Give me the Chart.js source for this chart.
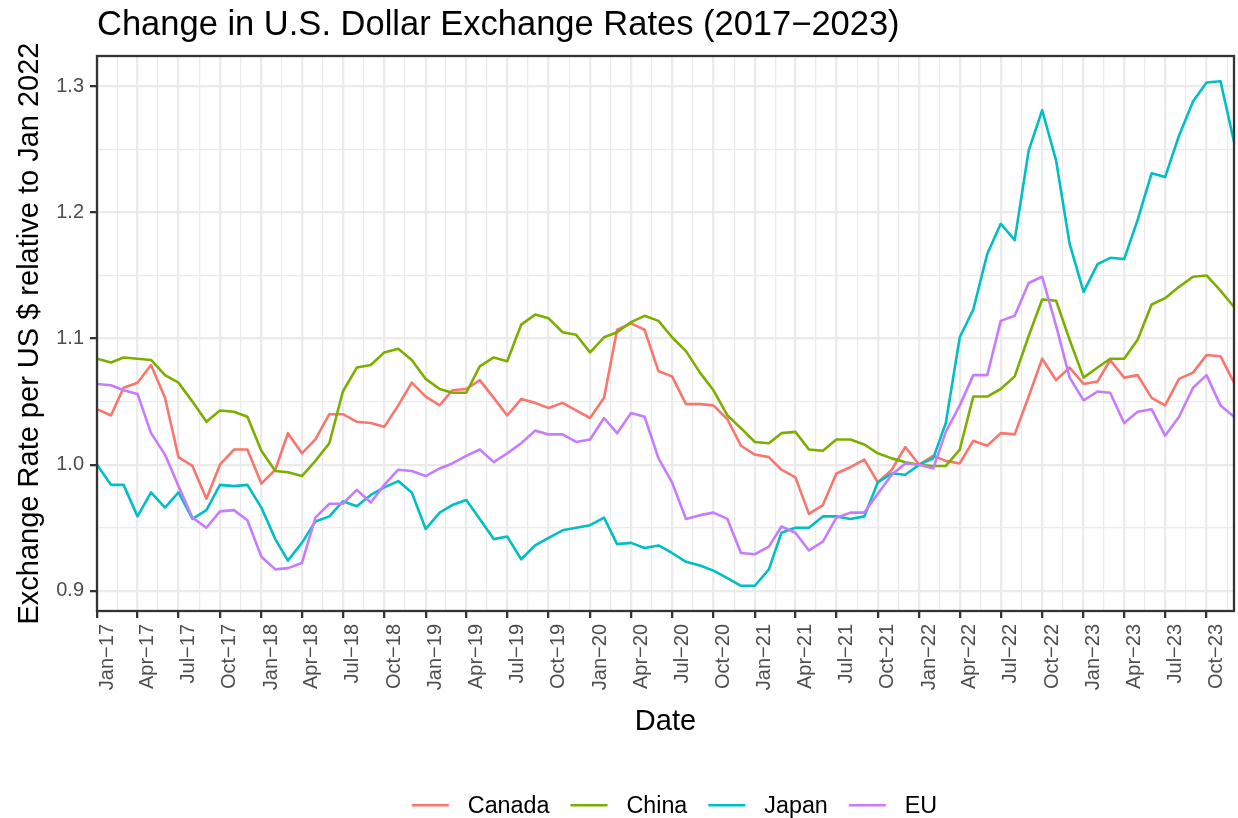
<!DOCTYPE html>
<html>
<head>
<meta charset="utf-8">
<title>Change in U.S. Dollar Exchange Rates (2017−2023)</title>
<script src="https://cdn.jsdelivr.net/npm/chart.js@4.4.1/dist/chart.umd.min.js"></script>
<style>
  html, body { margin: 0; padding: 0; background: #ffffff; }
  #wrap { width: 1238px; height: 818px; }
</style>
</head>
<body>
<div id="wrap"><canvas id="chart" width="1238" height="818"></canvas></div>
<script>
// Monthly observations (first of each month), rates indexed to Jan 2022 = 1
const months = [
  '2017-01','2017-02','2017-03','2017-04','2017-05','2017-06','2017-07','2017-08','2017-09','2017-10','2017-11','2017-12',
  '2018-01','2018-02','2018-03','2018-04','2018-05','2018-06','2018-07','2018-08','2018-09','2018-10','2018-11','2018-12',
  '2019-01','2019-02','2019-03','2019-04','2019-05','2019-06','2019-07','2019-08','2019-09','2019-10','2019-11','2019-12',
  '2020-01','2020-02','2020-03','2020-04','2020-05','2020-06','2020-07','2020-08','2020-09','2020-10','2020-11','2020-12',
  '2021-01','2021-02','2021-03','2021-04','2021-05','2021-06','2021-07','2021-08','2021-09','2021-10','2021-11','2021-12',
  '2022-01','2022-02','2022-03','2022-04','2022-05','2022-06','2022-07','2022-08','2022-09','2022-10','2022-11','2022-12',
  '2023-01','2023-02','2023-03','2023-04','2023-05','2023-06','2023-07','2023-08','2023-09','2023-10','2023-11','2023-12'
];

const canada = [
  1.044, 1.039, 1.061, 1.065, 1.079, 1.053, 1.006, 0.999, 0.973, 1.000, 1.012, 1.012,
  0.985, 0.996, 1.025, 1.009, 1.020, 1.040, 1.040, 1.034, 1.033, 1.030, 1.047, 1.065,
  1.054, 1.047, 1.059, 1.060, 1.067, 1.053, 1.039, 1.052, 1.049, 1.045, 1.049, 1.043,
  1.037, 1.053, 1.107, 1.112, 1.107, 1.074, 1.070, 1.048, 1.048, 1.047, 1.036, 1.015,
  1.008, 1.006, 0.996, 0.990, 0.961, 0.968, 0.993, 0.998, 1.004, 0.986, 0.996, 1.014,
  1.000, 1.007, 1.003, 1.001, 1.019, 1.015, 1.025, 1.024, 1.054, 1.084, 1.067, 1.077,
  1.064, 1.066, 1.083, 1.069, 1.071, 1.053, 1.047, 1.068, 1.073, 1.087, 1.086, 1.065
];

const china = [
  1.084, 1.081, 1.085, 1.084, 1.083, 1.071, 1.065, 1.050, 1.034, 1.043, 1.042, 1.038,
  1.011, 0.995, 0.994, 0.991, 1.003, 1.017, 1.058, 1.077, 1.079, 1.089, 1.092, 1.083,
  1.068, 1.060, 1.057, 1.057, 1.078, 1.085, 1.082, 1.111, 1.119, 1.116, 1.105, 1.103,
  1.089, 1.101, 1.105, 1.113, 1.118, 1.114, 1.101, 1.090, 1.073, 1.059, 1.039, 1.029,
  1.018, 1.017, 1.025, 1.026, 1.012, 1.011, 1.020, 1.020, 1.016, 1.009, 1.005, 1.002,
  1.000, 0.999, 0.999, 1.012, 1.054, 1.054, 1.060, 1.070, 1.102, 1.131, 1.130, 1.099,
  1.069, 1.077, 1.084, 1.084, 1.099, 1.127, 1.132, 1.141, 1.149, 1.150, 1.138, 1.125
];

const japan = [
  1.000, 0.984, 0.984, 0.959, 0.978, 0.966, 0.978, 0.957, 0.964, 0.984, 0.983, 0.984,
  0.966, 0.941, 0.924, 0.938, 0.955, 0.959, 0.971, 0.967, 0.976, 0.982, 0.987, 0.978,
  0.949, 0.962, 0.968, 0.972, 0.957, 0.941, 0.943, 0.925, 0.936, 0.942, 0.948, 0.950,
  0.952, 0.958, 0.937, 0.938, 0.934, 0.936, 0.930, 0.923, 0.920, 0.916, 0.910, 0.904,
  0.904, 0.917, 0.946, 0.950, 0.950, 0.959, 0.959, 0.957, 0.959, 0.986, 0.993, 0.992,
  1.000, 1.005, 1.033, 1.101, 1.123, 1.167, 1.191, 1.178, 1.249, 1.281, 1.241, 1.175,
  1.137, 1.159, 1.164, 1.163, 1.194, 1.231, 1.228, 1.261, 1.288, 1.303, 1.304, 1.256
];

const eu = [
  1.064, 1.063, 1.059, 1.056, 1.025, 1.008, 0.983, 0.958, 0.950, 0.963, 0.964, 0.956,
  0.927, 0.917, 0.918, 0.922, 0.958, 0.969, 0.969, 0.980, 0.970, 0.984, 0.996, 0.995,
  0.991, 0.997, 1.001, 1.007, 1.012, 1.002, 1.009, 1.017, 1.027, 1.024, 1.024, 1.018,
  1.020, 1.037, 1.025, 1.041, 1.038, 1.005, 0.986, 0.957, 0.960, 0.962, 0.957, 0.930,
  0.929, 0.935, 0.951, 0.946, 0.932, 0.939, 0.958, 0.962, 0.962, 0.977, 0.992, 1.001,
  1.000, 0.997, 1.026, 1.047, 1.071, 1.071, 1.114, 1.118, 1.144, 1.149, 1.110, 1.069,
  1.051, 1.058, 1.057, 1.033, 1.042, 1.044, 1.023, 1.038, 1.061, 1.071, 1.047, 1.038
];

const seriesNames = ['Canada', 'China', 'Japan', 'EU'];
const seriesValues = [canada, china, japan, eu];
const seriesColors = ['#F8766D', '#7CAE00', '#00BFC4', '#C77CFF'];

// Quarterly date breaks and their labels
const tickMonths = [
  '2017-01','2017-04','2017-07','2017-10','2018-01','2018-04','2018-07','2018-10',
  '2019-01','2019-04','2019-07','2019-10','2020-01','2020-04','2020-07','2020-10',
  '2021-01','2021-04','2021-07','2021-10','2022-01','2022-04','2022-07','2022-10',
  '2023-01','2023-04','2023-07','2023-10'
];
const tickLabels = [
  'Jan−17','Apr−17','Jul−17','Oct−17','Jan−18','Apr−18','Jul−18','Oct−18',
  'Jan−19','Apr−19','Jul−19','Oct−19','Jan−20','Apr−20','Jul−20','Oct−20',
  'Jan−21','Apr−21','Jul−21','Oct−21','Jan−22','Apr−22','Jul−22','Oct−22',
  'Jan−23','Apr−23','Jul−23','Oct−23'
];
const nextBreakMonth = '2024-01';

const yBreaks = [0.9, 1.0, 1.1, 1.2, 1.3];

const titleText = 'Change in U.S. Dollar Exchange Rates (2017−2023)';
const xTitle = 'Date';
const yTitle = 'Exchange Rate per US $ relative to Jan 2022';

// ---- helpers ----
const DAY = 86400000;
const ORIGIN = Date.UTC(2017, 0, 1);
function dayOf(ym) {
  const [y, m] = ym.split('-').map(Number);
  return (Date.UTC(y, m - 1, 1) - ORIGIN) / DAY;
}

const FONT = "'Liberation Sans', Arial, Helvetica, sans-serif";
const GRID = '#EBEBEB';
const DARK = '#333333';
const TICK_TEXT = '#4D4D4D';
const LW = 2.6;
const TICK_FONT = 20;

const xMin = dayOf(months[0]);
const xMax = dayOf(months[months.length - 1]);

const allVals = seriesValues.flat();
const vLo = Math.min(...allVals), vHi = Math.max(...allVals);
const vPad = (vHi - vLo) * 0.05;
const yMin = vLo - vPad, yMax = vHi + vPad;

// major + minor x ticks (minor halfway between majors)
const majorDays = tickMonths.map(dayOf);
const breakDays = majorDays.concat([dayOf(nextBreakMonth)]);
const xTicks = [];
for (let i = 0; i < majorDays.length; i++) {
  xTicks.push({ value: majorDays[i], major: true });
  const mid = (breakDays[i] + breakDays[i + 1]) / 2;
  if (mid <= xMax) xTicks.push({ value: mid, major: false });
}
const labelByDay = {};
majorDays.forEach((d, i) => { labelByDay[d] = tickLabels[i]; });

const yTicks = [];
for (let i = 0; i < yBreaks.length; i++) {
  yTicks.push({ value: yBreaks[i], major: true });
  if (i < yBreaks.length - 1) {
    yTicks.push({ value: (yBreaks[i] + yBreaks[i + 1]) / 2, major: false });
  }
}

const datasets = seriesNames.map((name, k) => ({
  label: name,
  data: months.map((m, i) => ({ x: dayOf(m), y: seriesValues[k][i] })),
  borderColor: seriesColors[k],
  backgroundColor: seriesColors[k],
  borderWidth: LW,
  pointRadius: 0,
  tension: 0,
  fill: false,
  borderJoinStyle: 'round',
  order: seriesNames.length - 1 - k
}));

// panel border, title and legend
const decor = {
  id: 'decor',
  afterDatasetsDraw(chart) {
    const { ctx, chartArea: a } = chart;
    ctx.save();
    ctx.strokeStyle = DARK;
    ctx.lineWidth = 2.3;
    ctx.strokeRect(a.left, a.top, a.right - a.left, a.bottom - a.top);
    ctx.restore();
  },
  afterDraw(chart) {
    const { ctx } = chart;
    ctx.save();
    ctx.fillStyle = '#000000';
    ctx.font = '34.5px ' + FONT;
    ctx.textAlign = 'left';
    ctx.textBaseline = 'alphabetic';
    ctx.fillText(titleText, 97, 35);

    // legend
    const keyW = 37, keyGap = 19, itemGap = 21, legY = 805.3, legCenter = 674.5;
    ctx.font = '23.3px ' + FONT;
    const widths = seriesNames.map(n => ctx.measureText(n).width);
    let total = 0;
    widths.forEach((w, i) => { total += keyW + keyGap + w + (i < widths.length - 1 ? itemGap : 0); });
    let x = legCenter - total / 2;
    ctx.textBaseline = 'middle';
    seriesNames.forEach((n, i) => {
      ctx.strokeStyle = seriesColors[i];
      ctx.lineWidth = LW;
      ctx.beginPath();
      ctx.moveTo(x, legY);
      ctx.lineTo(x + keyW, legY);
      ctx.stroke();
      ctx.fillStyle = '#000000';
      ctx.fillText(n, x + keyW + keyGap, legY + 1);
      x += keyW + keyGap + widths[i] + itemGap;
    });
    ctx.restore();
  }
};

Chart.defaults.font.family = FONT;

new Chart(document.getElementById('chart'), {
  type: 'line',
  data: { datasets },
  plugins: [decor],
  options: {
    responsive: false,
    devicePixelRatio: 1,
    animation: false,
    events: [],
    layout: { padding: { top: 56, right: 4, bottom: 77, left: 0 } },
    plugins: {
      legend: { display: false },
      title: { display: false },
      tooltip: { enabled: false }
    },
    scales: {
      x: {
        type: 'linear',
        min: xMin,
        max: xMax,
        afterBuildTicks: (s) => { s.ticks = xTicks.map(t => ({ ...t })); },
        afterFit: (s) => { s.height = 130; s.paddingLeft = 0; s.paddingRight = 0; },
        border: { display: false },
        grid: {
          color: GRID,
          lineWidth: (c) => (c.tick && c.tick.major ? 2.3 : 1.2),
          tickColor: (c) => (c.tick && c.tick.major ? DARK : 'rgba(0,0,0,0)'),
          tickWidth: 2.3,
          tickLength: 7,
          drawTicks: true
        },
        ticks: {
          autoSkip: false,
          minRotation: 90,
          maxRotation: 90,
          padding: 6,
          labelOffset: 10,
          color: TICK_TEXT,
          font: { size: TICK_FONT },
          callback: (v, i, ticks) => (ticks[i].major ? (labelByDay[v] || '') : '')
        },
        title: {
          display: true,
          text: xTitle,
          color: '#000000',
          font: { size: 29 },
          padding: { top: 0, bottom: 2 }
        }
      },
      y: {
        type: 'linear',
        min: yMin,
        max: yMax,
        afterBuildTicks: (s) => { s.ticks = yTicks.map(t => ({ ...t })); },
        afterFit: (s) => { s.width = 97; s.paddingTop = 0; s.paddingBottom = 0; },
        border: { display: false },
        grid: {
          color: GRID,
          lineWidth: (c) => (c.tick && c.tick.major ? 2.3 : 1.2),
          tickColor: (c) => (c.tick && c.tick.major ? DARK : 'rgba(0,0,0,0)'),
          tickWidth: 2.3,
          tickLength: 7,
          drawTicks: true
        },
        ticks: {
          autoSkip: false,
          padding: 6,
          color: TICK_TEXT,
          font: { size: TICK_FONT },
          callback: (v, i, ticks) => (ticks[i].major ? Number(v).toFixed(1) : '')
        },
        title: {
          display: true,
          text: yTitle,
          color: '#000000',
          font: { size: 29 },
          padding: { top: 13, bottom: 0 }
        }
      }
    }
  }
});
</script>
</body>
</html>
